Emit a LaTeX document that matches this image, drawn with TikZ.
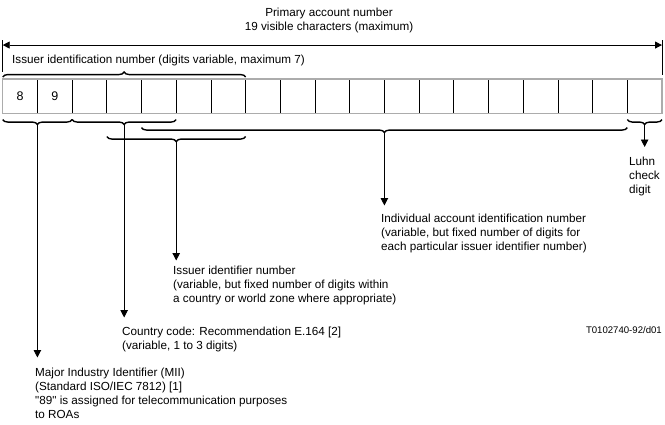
\documentclass[tikz,border=0pt]{standalone}
\usepackage{fontspec}
\setmainfont{Liberation Sans}
\usetikzlibrary{decorations.pathreplacing,arrows.meta,calc}
\begin{document}
\begin{tikzpicture}[x=1pt,y=-1pt,
  cell/.style={minimum width=34.7pt,minimum height=34.5pt,inner sep=0pt,outer sep=0pt,font=\fontsize{12.5}{14}\selectfont},
  lbl/.style={anchor=north west,align=left,inner sep=0pt,font=\fontsize{11.7}{14}\selectfont},
  brc/.style={decorate,decoration={brace,amplitude=5pt},line width=1.4pt},
  brcd/.style={decorate,decoration={brace,amplitude=5pt,mirror},line width=1.4pt},
  arr/.style={-{Triangle[length=7.5pt,width=7.5pt]},line width=0.8pt},
  sep/.style={line width=0.8pt},
]
\useasboundingbox (0,0) rectangle (665,424);
% title
\node[align=center,inner sep=0pt,font=\fontsize{11.7}{14}\selectfont] (title) at (329,20) {Primary account number\\19 visible characters (maximum)};
% cells
\node[cell] (c1) at ({2.7+34.7*0.5},96.3) {8};
\node[cell] (c2) at ({2.7+34.7*1.5},96.3) {9};
\foreach \i in {3,...,19} \node[cell] (c\i) at ({2.7+34.7*(\i-0.5)},96.3) {};
\foreach \i in {1,...,18} \draw[sep] (c\i.north east) -- (c\i.south east);
\draw[gray!65,line width=1.3pt] (c1.north west) rectangle (c19.south east);
% top dimension arrow
\coordinate (L1) at ([yshift=39pt]c1.north west);
\coordinate (L2) at ([yshift=7pt]c1.north west);
\coordinate (R1) at ([yshift=39pt]c19.north east);
\coordinate (R2) at ([yshift=4pt]c19.north east);
\draw[sep] (L1) -- (L2);
\draw[sep] (R1) -- (R2);
\coordinate (LA) at ([yshift=34pt]c1.north west);
\coordinate (RA) at ([yshift=34pt]c19.north east);
\draw[{Triangle[length=7pt,width=7pt]}-{Triangle[length=7pt,width=7pt]},line width=0.8pt] (LA) -- (RA);
\node[lbl] (iin) at (12,54.5) {Issuer identification number (digits variable, maximum 7)};
% top brace
\draw[brc] ([yshift=2pt]c1.north west) -- ([yshift=2pt]c7.north east);
% bottom braces
\draw[brcd] ([yshift=-6pt]c1.south west) -- ([yshift=-6pt]c2.south east);
\draw[brcd] ([yshift=-6pt]c3.south west) -- ([yshift=-6pt]c5.south east);
\draw[brcd] ([yshift=-14pt]c5.south west) -- ([yshift=-14pt]c18.south east);
\draw[brcd] ([yshift=-23pt]c4.south west) -- ([yshift=-23pt]c7.south east);
\draw[brcd] ([yshift=-6pt]c19.south west) -- ([yshift=-6pt]c19.south east);
\coordinate (m1) at ($([yshift=-11pt]c1.south west)!0.5!([yshift=-11pt]c2.south east)$);
\coordinate (m2) at ($([yshift=-11pt]c3.south west)!0.5!([yshift=-11pt]c5.south east)$);
\coordinate (m3) at ($([yshift=-19pt]c5.south west)!0.5!([yshift=-19pt]c18.south east)$);
\coordinate (m4) at ($([yshift=-28pt]c4.south west)!0.5!([yshift=-28pt]c7.south east)$);
\coordinate (m5) at ($([yshift=-11pt]c19.south west)!0.5!([yshift=-11pt]c19.south east)$);
% labels
\node[lbl] (luhn) at (629,157) {Luhn\\check\\digit};
\node[lbl] (ind) at (381,213.5) {Individual account identification number\\(variable, but fixed number of digits for\\each particular issuer identifier number)};
\node[lbl] (iss) at (173,265.5) {Issuer identifier number\\(variable, but fixed number of digits within\\a country or world zone where appropriate)};
\node[lbl] (cc) at (122,326.5) {Country code: Recommendation E.164 [2]\\(variable, 1 to 3 digits)};
\node[lbl] (mii) at (35,367.5) {Major Industry Identifier (MII)\\(Standard ISO/IEC 7812) [1]\\\textquotedbl 89\textquotedbl{} is assigned for telecommunication purposes\\to ROAs};
\node[anchor=north east,inner sep=0pt,font=\fontsize{9.6}{11}\selectfont] (ref) at (662,326) {T0102740-92/d01};
% arrows
\draw[arr] (m1) -- ($(m1 |- mii.north)+(0,-10)$);
\draw[arr] (m2) -- ($(m2 |- cc.north)+(0,-9)$);
\draw[arr] (m3) -- ($(m3 |- ind.north)+(0,-8)$);
\draw[arr] (m4) -- ($(m4 |- iss.north)+(0,-5)$);
\draw[arr] (m5) -- ($(m5 |- luhn.north)+(0,-10)$);
\end{tikzpicture}
\end{document}
